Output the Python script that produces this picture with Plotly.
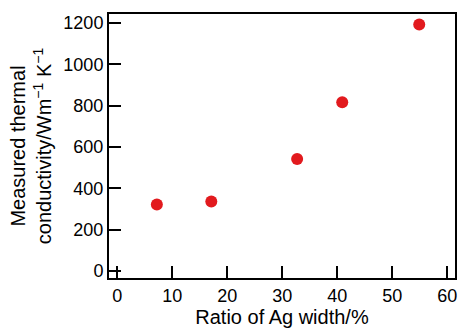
import plotly.graph_objects as go

ratio = [7.2, 17.1, 32.7, 40.9, 54.9]
conductivity = [322, 336, 542, 816, 1192]
x_ticks = [0, 10, 20, 30, 40, 50, 60]
y_ticks = [0, 200, 400, 600, 800, 1000, 1200]

fig = go.Figure()
fig.add_trace(go.Scatter(
    x=ratio, y=conductivity, mode="markers",
    marker=dict(size=12, color="rgb(226,26,30)", line=dict(width=0)),
    showlegend=False,
))

font = dict(family="Liberation Sans, Arial, sans-serif", size=18, color="black")
fig.update_layout(
    width=459, height=333,
    margin=dict(l=109, r=2, t=14, b=55),
    paper_bgcolor="white", plot_bgcolor="white",
    font=font,
)
fig.update_xaxes(
    range=[-1.5, 61.4], tickvals=x_ticks, ticks="inside", ticklen=12, tickwidth=2,
    tickcolor="black", showline=True, linewidth=2, linecolor="black", mirror=True,
    showgrid=False, zeroline=False, tickfont=dict(size=18),
    title=dict(text="Ratio of Ag width/%", font=dict(size=20), standoff=5),
)
fig.update_yaxes(
    range=[-34, 1243], tickvals=y_ticks, ticks="inside", ticklen=12, tickwidth=2,
    tickcolor="black", showline=True, linewidth=2, linecolor="black", mirror=True,
    showgrid=False, zeroline=False, tickfont=dict(size=18),
    title=dict(text="Measured thermal<br>conductivity/Wm<sup>−1</sup> K<sup>−1</sup>",
               font=dict(size=20), standoff=6),
)
fig.write_html("out.html")
